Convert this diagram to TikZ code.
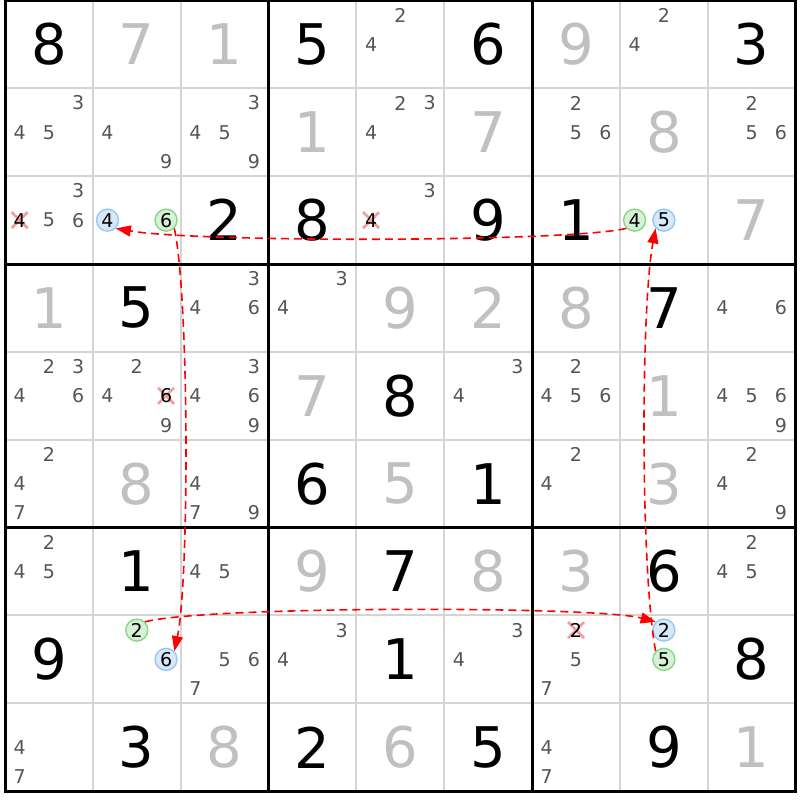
\documentclass[tikz,border=0pt]{standalone}
\usepackage{fontspec}
\setmainfont{DejaVu Sans}
\usetikzlibrary{arrows.meta}
\definecolor{gridthin}{RGB}{212,212,212}
\definecolor{solved}{RGB}{192,192,192}
\definecolor{candgrey}{RGB}{85,85,85}
\definecolor{bluefill}{RGB}{214,232,250}
\definecolor{blueline}{RGB}{150,200,245}
\definecolor{greenfill}{RGB}{214,242,214}
\definecolor{greenline}{RGB}{135,215,135}
\definecolor{crossred}{RGB}{245,155,155}
\definecolor{linkred}{RGB}{255,0,0}
\def\gl{5}
\def\gt{0.5}
\def\cs{87.85}
\newcommand\bigdig[4][givenst]{%
  \pgfmathsetmacro\px{\gl+(#3-0.5)*\cs}%
  \pgfmathsetmacro\py{\gt+(#2-0.5)*\cs}%
  \node[#1] (d#2#3) at (\px,\py) {#4};}
\newcommand\candpos[3]{%
  \pgfmathsetmacro\px{\gl+(#2-1)*\cs+\cs*(1+2*mod(#3-1,3))/6}%
  \pgfmathsetmacro\py{\gt+(#1-1)*\cs+\cs*(1+2*floor((#3-1)/3))/6}}
\newcommand\cands[3]{\foreach \dd in {#3}{\candpos{#1}{#2}{\dd}\node[candst] (c#1#2n\dd) at (\px,\py) {\dd};}}
\newcommand\xcand[3]{\candpos{#1}{#2}{#3}%
  \draw[crossst] (\px-8,\py-8) -- (\px+8,\py+8) (\px-8,\py+8) -- (\px+8,\py-8);
  \node[candst,text=black] (c#1#2n#3) at (\px,\py) {#3};}
\newcommand\hcand[4]{\candpos{#2}{#3}{#4}\node[#1] (c#2#3n#4) at (\px,\py) {#4};}
\tikzset{
  givenst/.style={font=\fontsize{56}{56}\selectfont, text=black, inner sep=0pt},
  solvedst/.style={givenst, text=solved},
  candst/.style={font=\fontsize{19}{19}\selectfont, text=candgrey, inner sep=0pt},
  hlbase/.style={circle, line width=1.4pt, minimum size=22pt, inner sep=0pt, font=\fontsize{19}{19}\selectfont, text=black},
  bluest/.style={hlbase, draw=blueline, fill=bluefill},
  greenst/.style={hlbase, draw=greenline, fill=greenfill},
  crossst/.style={draw=crossred, line width=2.6pt},
  thinl/.style={draw=gridthin, line width=2pt},
  thickl/.style={draw=black, line width=3pt},
  linkarrow/.style={draw=linkred, line width=1.6pt, dash pattern=on 8pt off 5pt, -{Triangle[length=15pt,width=11pt]}}
}
\begin{document}
\begin{tikzpicture}[x=1pt,y=-1pt]
\fill[white] (0,0) rectangle (800,800);
\useasboundingbox (0,0) rectangle (800,800);
% grid
\foreach \i in {1,2,4,5,7,8}{
  \draw[thinl] (\gl+\i*\cs,\gt) -- (\gl+\i*\cs,\gt+9*\cs);
  \draw[thinl] (\gl,\gt+\i*\cs) -- (\gl+9*\cs,\gt+\i*\cs);
}
\foreach \i in {0,3,6,9}{
  \draw[thickl] (\gl+\i*\cs,\gt-1.5) -- (\gl+\i*\cs,\gt+9*\cs+1.5);
  \draw[thickl] (\gl-1.5,\gt+\i*\cs) -- (\gl+9*\cs+1.5,\gt+\i*\cs);
}
% givens
\bigdig{1}{1}{8}\bigdig{1}{4}{5}\bigdig{1}{6}{6}\bigdig{1}{9}{3}
\bigdig{3}{3}{2}\bigdig{3}{4}{8}\bigdig{3}{6}{9}\bigdig{3}{7}{1}
\bigdig{4}{2}{5}\bigdig{4}{8}{7}
\bigdig{5}{5}{8}
\bigdig{6}{4}{6}\bigdig{6}{6}{1}
\bigdig{7}{2}{1}\bigdig{7}{5}{7}\bigdig{7}{8}{6}
\bigdig{8}{1}{9}\bigdig{8}{5}{1}\bigdig{8}{9}{8}
\bigdig{9}{2}{3}\bigdig{9}{4}{2}\bigdig{9}{6}{5}\bigdig{9}{8}{9}
% solved
\bigdig[solvedst]{1}{2}{7}\bigdig[solvedst]{1}{3}{1}\bigdig[solvedst]{1}{7}{9}
\bigdig[solvedst]{2}{4}{1}\bigdig[solvedst]{2}{6}{7}\bigdig[solvedst]{2}{8}{8}
\bigdig[solvedst]{3}{9}{7}
\bigdig[solvedst]{4}{1}{1}\bigdig[solvedst]{4}{5}{9}\bigdig[solvedst]{4}{6}{2}\bigdig[solvedst]{4}{7}{8}
\bigdig[solvedst]{5}{4}{7}\bigdig[solvedst]{5}{8}{1}
\bigdig[solvedst]{6}{2}{8}\bigdig[solvedst]{6}{5}{5}\bigdig[solvedst]{6}{8}{3}
\bigdig[solvedst]{7}{4}{9}\bigdig[solvedst]{7}{6}{8}\bigdig[solvedst]{7}{7}{3}
\bigdig[solvedst]{9}{3}{8}\bigdig[solvedst]{9}{5}{6}\bigdig[solvedst]{9}{9}{1}
% candidates
\cands{1}{5}{2,4}\cands{1}{8}{2,4}
\cands{2}{1}{3,4,5}\cands{2}{2}{4,9}\cands{2}{3}{3,4,5,9}\cands{2}{5}{2,3,4}\cands{2}{7}{2,5,6}\cands{2}{9}{2,5,6}
\cands{3}{1}{3,5,6}\xcand{3}{1}{4}\cands{3}{5}{3}\xcand{3}{5}{4}
\hcand{bluest}{3}{2}{4}\hcand{greenst}{3}{2}{6}\hcand{greenst}{3}{8}{4}\hcand{bluest}{3}{8}{5}
\cands{4}{3}{3,4,6}\cands{4}{4}{3,4}\cands{4}{9}{4,6}
\cands{5}{1}{2,3,4,6}\cands{5}{2}{2,4,9}\xcand{5}{2}{6}\cands{5}{3}{3,4,6,9}\cands{5}{6}{3,4}\cands{5}{7}{2,4,5,6}\cands{5}{9}{4,5,6,9}
\cands{6}{1}{2,4,7}\cands{6}{3}{4,7,9}\cands{6}{7}{2,4}\cands{6}{9}{2,4,9}
\cands{7}{1}{2,4,5}\cands{7}{3}{4,5}\cands{7}{9}{2,4,5}
\hcand{greenst}{8}{2}{2}\hcand{bluest}{8}{2}{6}
\cands{8}{3}{5,6,7}\cands{8}{4}{3,4}\cands{8}{6}{3,4}\cands{8}{7}{5,7}\xcand{8}{7}{2}
\hcand{bluest}{8}{8}{2}\hcand{greenst}{8}{8}{5}
\cands{9}{1}{4,7}\cands{9}{7}{4,7}
% links
\draw[linkarrow] (c38n4.225) .. controls +(-60,14) and +(80,14) .. (c32n4.-45);
\draw[linkarrow] (c32n6.-45) .. controls +(15,70) and +(15,-70) .. (c82n6.45);
\draw[linkarrow] (c82n2.45) .. controls +(60,-16) and +(-60,-16) .. (c88n2.135);
\draw[linkarrow] (c88n5.135) .. controls +(-15,-80) and +(-15,80) .. (c38n5.225);
\end{tikzpicture}
\end{document}
